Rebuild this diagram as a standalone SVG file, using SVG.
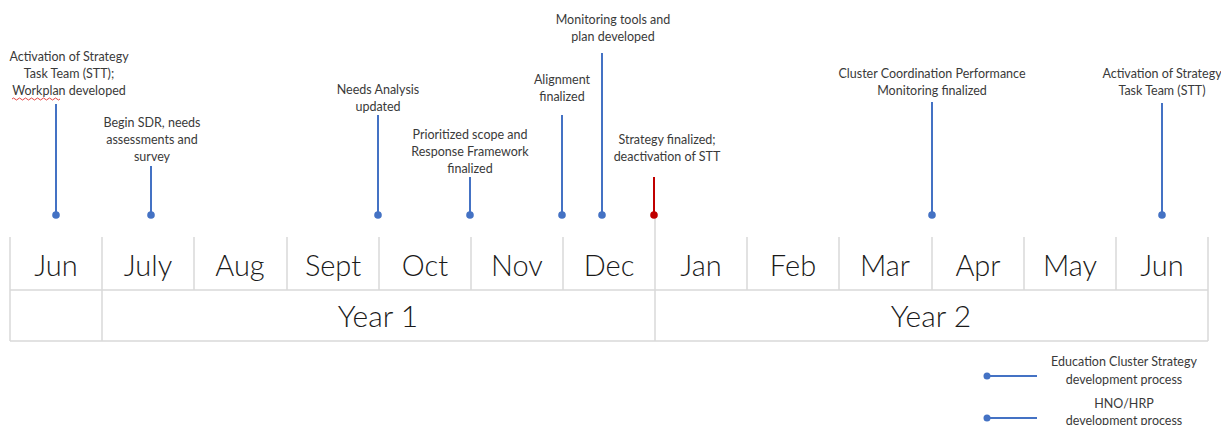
<svg xmlns="http://www.w3.org/2000/svg" width="1221" height="425" viewBox="0 0 1221 425">
  <style>
    .lbl { font-family: Lato, "Open Sans", "Liberation Sans", sans-serif; font-size: 12.5px; fill: #3a3a3a; text-anchor: middle; }
    .mon { font-family: Lato, "Open Sans", "Liberation Sans", sans-serif; font-weight: 300; font-size: 29px; fill: #1a1a1a; text-anchor: middle; }
    .yr { font-family: Lato, "Open Sans", "Liberation Sans", sans-serif; font-weight: 300; font-size: 30px; fill: #1a1a1a; text-anchor: middle; }
    .grid { stroke: #d9d9d9; stroke-width: 1.5; fill: none; }
    .stem { stroke: #4472c4; stroke-width: 2; }
    .dot { fill: #4472c4; }
    .stem-red { stroke: #c00000; stroke-width: 2; }
    .dot-red { fill: #c00000; }
  </style>

  <rect width="1221" height="425" fill="#ffffff"/>

  <!-- Timeline table -->
  <g id="table">
    <g class="grid">
      <line x1="10" y1="237" x2="10" y2="341"/>
      <line x1="102" y1="237" x2="102" y2="341"/>
      <line x1="194" y1="237" x2="194" y2="290"/>
      <line x1="287" y1="237" x2="287" y2="290"/>
      <line x1="379" y1="237" x2="379" y2="290"/>
      <line x1="471" y1="237" x2="471" y2="290"/>
      <line x1="563" y1="237" x2="563" y2="290"/>
      <line x1="655" y1="217" x2="655" y2="341"/>
      <line x1="747" y1="237" x2="747" y2="290"/>
      <line x1="839" y1="237" x2="839" y2="290"/>
      <line x1="932" y1="237" x2="932" y2="290"/>
      <line x1="1024" y1="237" x2="1024" y2="290"/>
      <line x1="1116" y1="237" x2="1116" y2="290"/>
      <line x1="1208" y1="237" x2="1208" y2="341"/>
      <line x1="10" y1="290" x2="1208" y2="290"/>
      <line x1="10" y1="341" x2="1208" y2="341"/>
    </g>
    <text class="mon" x="56" y="276">Jun</text>
    <text class="mon" x="148" y="276">July</text>
    <text class="mon" x="240" y="276">Aug</text>
    <text class="mon" x="333" y="276">Sept</text>
    <text class="mon" x="425" y="276">Oct</text>
    <text class="mon" x="517" y="276">Nov</text>
    <text class="mon" x="609" y="276">Dec</text>
    <text class="mon" x="701" y="276">Jan</text>
    <text class="mon" x="793" y="276">Feb</text>
    <text class="mon" x="885" y="276">Mar</text>
    <text class="mon" x="978" y="276">Apr</text>
    <text class="mon" x="1070" y="276">May</text>
    <text class="mon" x="1162" y="276">Jun</text>
    <text class="yr" x="378" y="327">Year 1</text>
    <text class="yr" x="931" y="327">Year 2</text>
  </g>

  <!-- Milestone connectors -->
  <g id="connectors">
    <line class="stem" x1="56" y1="104" x2="56" y2="215"/>
    <line class="stem" x1="151" y1="166" x2="151" y2="215"/>
    <line class="stem" x1="378" y1="115" x2="378" y2="215"/>
    <line class="stem" x1="470" y1="177" x2="470" y2="215"/>
    <line class="stem" x1="562" y1="115" x2="562" y2="215"/>
    <line class="stem" x1="602" y1="53" x2="602" y2="215"/>
    <line class="stem-red" x1="654" y1="177" x2="654" y2="215"/>
    <line class="stem" x1="932" y1="102" x2="932" y2="215"/>
    <line class="stem" x1="1162" y1="103" x2="1162" y2="215"/>
  </g>

  <!-- Milestones -->
  <g id="m-activation">
    <circle class="dot" cx="56" cy="215" r="3.8"/>
    <text class="lbl" x="69" y="61">Activation of Strategy</text>
    <text class="lbl" x="69" y="78">Task Team (STT);</text>
    <text class="lbl" x="69" y="95">Workplan developed</text>
    <path d="M12 99 q1.5 -2 3 0 t3 0 t3 0 t3 0 t3 0 t3 0 t3 0 t3 0 t3 0 t3 0 t3 0 t3 0 t3 0 t3 0 t3 0 t3 0" fill="none" stroke="#e03030" stroke-width="0.9"/>
  </g>
  <g id="m-sdr">
    <circle class="dot" cx="151" cy="215" r="3.8"/>
    <text class="lbl" x="152" y="127">Begin SDR, needs</text>
    <text class="lbl" x="152" y="144">assessments and</text>
    <text class="lbl" x="152" y="161">survey</text>
  </g>
  <g id="m-needs">
    <circle class="dot" cx="378" cy="215" r="3.8"/>
    <text class="lbl" x="378" y="94">Needs Analysis</text>
    <text class="lbl" x="378" y="111">updated</text>
  </g>
  <g id="m-scope">
    <circle class="dot" cx="470" cy="215" r="3.8"/>
    <text class="lbl" x="470" y="139">Prioritized scope and</text>
    <text class="lbl" x="470" y="156">Response Framework</text>
    <text class="lbl" x="470" y="173">finalized</text>
  </g>
  <g id="m-alignment">
    <circle class="dot" cx="562" cy="215" r="3.8"/>
    <text class="lbl" x="562" y="84">Alignment</text>
    <text class="lbl" x="562" y="101">finalized</text>
  </g>
  <g id="m-monitoring">
    <circle class="dot" cx="602" cy="215" r="3.8"/>
    <text class="lbl" x="613" y="24">Monitoring tools and</text>
    <text class="lbl" x="613" y="41">plan developed</text>
  </g>
  <g id="m-strategy">
    <circle class="dot-red" cx="654" cy="215" r="3.8"/>
    <text class="lbl" x="667" y="144">Strategy finalized;</text>
    <text class="lbl" x="667" y="161">deactivation of STT</text>
  </g>
  <g id="m-ccpm">
    <circle class="dot" cx="932" cy="215" r="3.8"/>
    <text class="lbl" x="932" y="78">Cluster Coordination Performance</text>
    <text class="lbl" x="932" y="95">Monitoring finalized</text>
  </g>
  <g id="m-activation2">
    <circle class="dot" cx="1162" cy="215" r="3.8"/>
    <text class="lbl" x="1162" y="78">Activation of Strategy</text>
    <text class="lbl" x="1162" y="95">Task Team (STT)</text>
  </g>

  <!-- Legend -->
  <g id="legend">
    <line class="stem" x1="987" y1="376" x2="1037" y2="376"/>
    <circle class="dot" cx="987" cy="376" r="3.5"/>
    <text class="lbl" x="1124" y="366">Education Cluster Strategy</text>
    <text class="lbl" x="1124" y="384">development process</text>
    <line class="stem" x1="987" y1="418" x2="1037" y2="418"/>
    <circle class="dot" cx="987" cy="418" r="3.5"/>
    <text class="lbl" x="1124" y="408">HNO/HRP</text>
    <text class="lbl" x="1124" y="425">development process</text>
  </g>
</svg>
